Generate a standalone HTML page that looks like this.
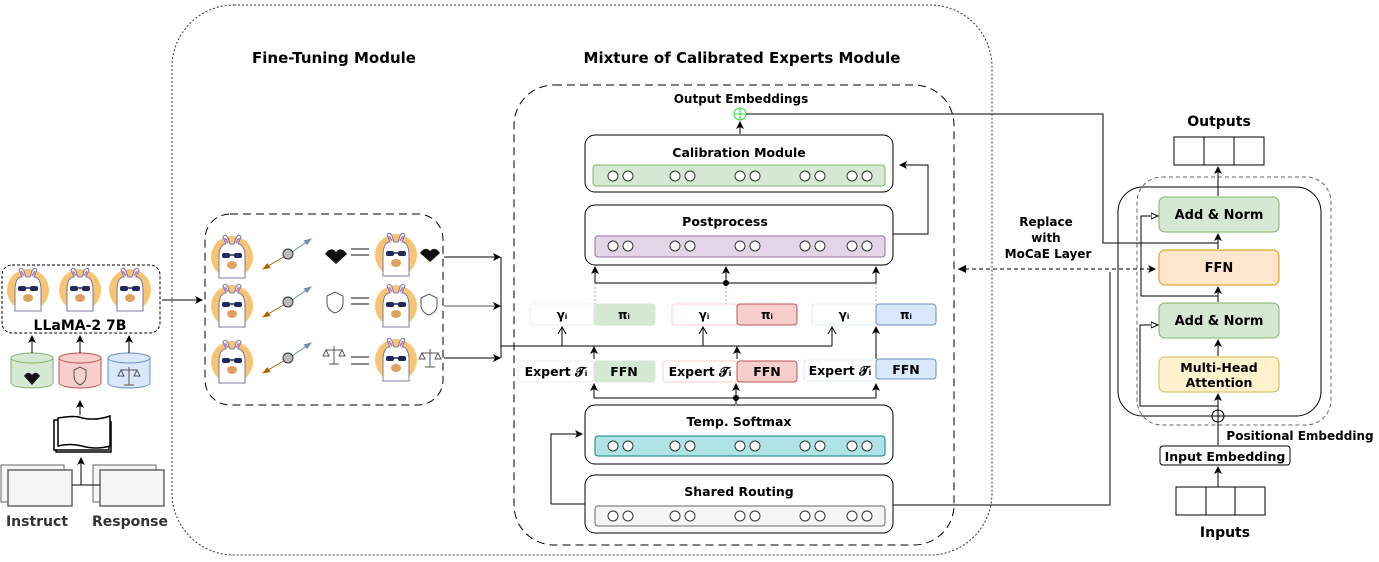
<!DOCTYPE html>
<html><head><meta charset="utf-8"><style>
body{margin:0;background:#fff}
svg{display:block;font-family:"DejaVu Sans","Liberation Sans",sans-serif;font-weight:bold}
</style></head><body>
<svg width="1379" height="562" viewBox="0 0 1379 562" xmlns="http://www.w3.org/2000/svg">
<defs>
<marker id="a" markerWidth="8" markerHeight="8" refX="7" refY="4" orient="auto" markerUnits="userSpaceOnUse"><path d="M0,0 L8,4 L0,8 L2,4z" fill="#000"/></marker>
<marker id="ao" markerWidth="8" markerHeight="10" refX="7" refY="5" orient="auto" markerUnits="userSpaceOnUse"><path d="M0,1 L7,5 L0,9" fill="none" stroke="#000"/></marker>
<marker id="aw" markerWidth="8" markerHeight="8" refX="7" refY="4" orient="auto" markerUnits="userSpaceOnUse"><path d="M0,1 L7,4 L0,7z" fill="#fff" stroke="#000"/></marker>
<marker id="ab" markerWidth="8" markerHeight="8" refX="7" refY="4" orient="auto" markerUnits="userSpaceOnUse"><path d="M0,1 L8,4 L0,7z" fill="#6c8ebf"/></marker>
<marker id="ar" markerWidth="8" markerHeight="8" refX="7" refY="4" orient="auto" markerUnits="userSpaceOnUse"><path d="M0,1 L8,4 L0,7z" fill="#b46504"/></marker>
<g id="ll">
<circle cx="0" cy="0" r="21" fill="#f8c471"/>
<path d="M-13,21 L-13,-2 Q-12,-13 -6,-13 L-9,-20 Q-7,-24 -4,-19 L-2,-13 L2,-13 L4,-19 Q7,-24 9,-20 L6,-13 Q12,-13 13,-2 L13,21z" fill="#fff" stroke="#7a7aa8" stroke-width="1"/>
<path d="M-7,-19 L-4,-14 M7,-19 L4,-14" stroke="#c080c0" stroke-width="2"/>
<rect x="-10" y="-4" width="8" height="5" rx="2" fill="#1f2a5a"/><rect x="2" y="-4" width="8" height="5" rx="2" fill="#1f2a5a"/>
<line x1="-2" y1="-2" x2="2" y2="-2" stroke="#1f2a5a" stroke-width="1.5"/>
<ellipse cx="0" cy="8" rx="5" ry="4" fill="#e0a060"/>
</g>
<g id="circ"><circle cx="0" cy="0" r="5" fill="#fff" stroke="#333"/><circle cx="15" cy="0" r="5" fill="#fff" stroke="#333"/></g>
</defs>

<rect x="172" y="5" width="820" height="550" rx="62" fill="none" stroke="#333" stroke-dasharray="2,2"/>
<text x="334" y="63" text-anchor="middle" font-size="15">Fine-Tuning Module</text>
<text x="742" y="63" text-anchor="middle" font-size="15">Mixture of Calibrated Experts Module</text>
<rect x="514" y="85" width="440" height="460" rx="40" fill="none" stroke="#000" stroke-dasharray="8,5"/>

<rect x="2" y="265" width="158" height="68" rx="10" fill="none" stroke="#000" stroke-dasharray="3,2"/>
<use href="#ll" x="28" y="290"/><use href="#ll" x="80" y="290"/><use href="#ll" x="130" y="290"/>
<text x="80" y="330" text-anchor="middle" font-size="14">LLaMA-2 7B</text>
<line x1="162" y1="300" x2="202" y2="300" stroke="#000" marker-end="url(#a)"/>
<g stroke-width="1">
<path d="M11,358 v25 a21,5 0 0 0 42,0 v-25" fill="#d5e8d4" stroke="#82b366"/><ellipse cx="32" cy="358" rx="21" ry="5" fill="#d5e8d4" stroke="#82b366"/>
<path d="M59,358 v25 a21,5 0 0 0 42,0 v-25" fill="#f8cecc" stroke="#b85450"/><ellipse cx="80" cy="358" rx="21" ry="5" fill="#f8cecc" stroke="#b85450"/>
<path d="M108,358 v25 a21,5 0 0 0 42,0 v-25" fill="#dae8fc" stroke="#6c8ebf"/><ellipse cx="129" cy="358" rx="21" ry="5" fill="#dae8fc" stroke="#6c8ebf"/>
</g>
<path d="M24,376 q4,-6 8,-1 q4,-5 8,1 l-8,9z" fill="#111"/>
<path d="M74,370 l6,-3 6,3 v6 q0,6 -6,9 q-6,-3 -6,-9z" fill="none" stroke="#555"/>
<path d="M121,370 h16 M129,367 v18 M124,385 h10 M121,370 l-3,6 h6z M137,370 l-3,6 h6z" fill="none" stroke="#555"/>
<g stroke="#000" marker-end="url(#a)"><line x1="32" y1="353" x2="32" y2="336"/><line x1="80" y1="353" x2="80" y2="336"/><line x1="129" y1="353" x2="129" y2="336"/></g>
<path d="M52,418 h55 v30 h-55z" fill="#fff" stroke="#000" stroke-width="1.5" transform="translate(4,4)"/>
<path d="M52,418 h55 v30 h-55z" fill="#fff" stroke="#000" stroke-width="1.5" transform="translate(2,2)"/>
<path d="M58,418 q18,-3 24,0 q14,3 28,-2 v30 q-14,4 -28,0 q-12,-3 -24,0z" fill="#fff" stroke="#000" stroke-width="1.5"/>
<line x1="80" y1="415" x2="80" y2="401" stroke="#000" marker-end="url(#a)"/>
<rect x="1" y="465" width="63" height="37" fill="#f5f5f5" stroke="#666"/><rect x="8" y="470" width="64" height="36" fill="#f5f5f5" stroke="#666" stroke-width="1.5"/>
<rect x="93" y="465" width="63" height="37" fill="#f5f5f5" stroke="#666"/><rect x="100" y="470" width="64" height="36" fill="#f5f5f5" stroke="#666" stroke-width="1.5"/>
<path d="M72,485 H100 M81,485 V458" stroke="#000" fill="none" marker-end="url(#a)"/>
<text x="37" y="526" text-anchor="middle" font-size="14" fill="#333">Instruct</text>
<text x="130" y="526" text-anchor="middle" font-size="14" fill="#333">Response</text>

<rect x="205" y="214" width="238" height="191" rx="25" fill="none" stroke="#000" stroke-dasharray="8,5"/>
<g>
<use href="#ll" x="232" y="257"/><use href="#ll" x="232" y="306"/><use href="#ll" x="232" y="362"/>
<use href="#ll" x="396" y="255"/><use href="#ll" x="396" y="306"/><use href="#ll" x="396" y="360"/>
</g>
<g id="row">
<line x1="287" y1="255" x2="263" y2="269" stroke="#b46504" marker-end="url(#ar)"/>
<line x1="292" y1="252" x2="311" y2="239" stroke="#6c8ebf" marker-end="url(#ab)"/>
<circle cx="288" cy="254" r="5" fill="#bbb" stroke="#333"/>
</g>
<use href="#row" y="48"/><use href="#row" y="104"/>
<g stroke="#888" stroke-width="2"><path d="M351,249h18M351,255h18M351,298h18M351,304h18M351,357h18M351,364h18"/></g>
<path d="M325,254 q6,-8 11,-2 q5,-6 11,2 l-11,10z" fill="#111"/><path d="M420,253 q5,-7 10,-2 q5,-5 10,2 l-10,9z" fill="#111"/>
<path d="M327,296 l8,-4 8,4 v7 q0,7 -8,10 q-8,-3 -8,-10z M421,298 l8,-4 8,4 v7 q0,7 -8,10 q-8,-3 -8,-10z" fill="none" stroke="#555"/>
<path d="M326,350 h16 M334,346 v18 M329,364 h10 M326,350 l-3,6 h6z M342,350 l-3,6 h6z M422,353 h16 M430,349 v18 M425,367 h10 M422,353 l-3,6 h6z M438,353 l-3,6 h6z" fill="none" stroke="#555"/>
<g stroke="#000" fill="none">
<line x1="444" y1="257" x2="500" y2="257" marker-end="url(#a)"/>
<line x1="444" y1="306" x2="500" y2="306" stroke="#555" marker-end="url(#a)"/>
<line x1="444" y1="358" x2="500" y2="358" marker-end="url(#a)"/>
<path d="M501,257 V358 M501,346 H832"/>
<path d="M832,346 V327" marker-end="url(#ao)"/>
<path d="M562,346 V327" marker-end="url(#ao)"/>
<path d="M703,346 V327" marker-end="url(#ao)"/>
</g>

<text x="741" y="103" text-anchor="middle" font-size="12">Output Embeddings</text>
<circle cx="740" cy="114" r="6" fill="none" stroke="#33dd33"/><path d="M734,114h12M740,108v12" stroke="#33dd33"/>
<line x1="740" y1="134" x2="740" y2="122" stroke="#000" marker-end="url(#a)"/>

<rect x="585" y="135" width="308" height="57" rx="10" fill="#fff" stroke="#000"/>
<text x="739" y="157" text-anchor="middle" font-size="12.5">Calibration Module</text>
<rect x="593" y="165" width="292" height="21" rx="3" fill="#d5e8d4" stroke="#82b366"/>
<rect x="585" y="205" width="308" height="60" rx="10" fill="#fff" stroke="#000"/>
<text x="725" y="226" text-anchor="middle" font-size="12.5">Postprocess</text>
<rect x="595" y="236" width="290" height="21" rx="3" fill="#e1d5e7" stroke="#9673a6"/>
<rect x="585" y="405" width="308" height="59" rx="10" fill="#fff" stroke="#000"/>
<text x="739" y="426" text-anchor="middle" font-size="12.5">Temp. Softmax</text>
<rect x="595" y="436" width="290" height="20" rx="3" fill="#b0e3e6" stroke="#0e8088"/>
<rect x="585" y="475" width="308" height="58" rx="10" fill="#fff" stroke="#000"/>
<text x="739" y="496" text-anchor="middle" font-size="12.5">Shared Routing</text>
<rect x="595" y="506" width="290" height="20" rx="3" fill="#f5f5f5" stroke="#666"/>
<g>
<use href="#circ" x="613" y="176"/><use href="#circ" x="675" y="176"/><use href="#circ" x="740" y="176"/><use href="#circ" x="805" y="176"/><use href="#circ" x="852" y="176"/>
<use href="#circ" x="613" y="246"/><use href="#circ" x="675" y="246"/><use href="#circ" x="740" y="246"/><use href="#circ" x="805" y="246"/><use href="#circ" x="852" y="246"/>
<use href="#circ" x="613" y="446"/><use href="#circ" x="675" y="446"/><use href="#circ" x="740" y="446"/><use href="#circ" x="805" y="446"/><use href="#circ" x="852" y="446"/>
<use href="#circ" x="613" y="516"/><use href="#circ" x="675" y="516"/><use href="#circ" x="740" y="516"/><use href="#circ" x="805" y="516"/><use href="#circ" x="852" y="516"/>
</g>
<g fill="none" stroke="#000">
<path d="M893,234 H928 V165 H900" marker-end="url(#a)"/>
<path d="M726,283 V267" marker-end="url(#a)"/>
<path d="M595,283 H876"/>
<path d="M595,283 V267" marker-end="url(#a)"/><path d="M876,283 V267" marker-end="url(#a)"/>
<path d="M595,283 V304 M726,283 V304 M876,283 V304" stroke="#b85450" stroke-dasharray="2,2" stroke-width="0.6"/>
<path d="M551,504 V434 H582" marker-end="url(#a)"/>
<path d="M551,504 H585"/>
<path d="M736,398 V384" marker-end="url(#a)"/>
<path d="M594,398 H876"/>
<path d="M594,398 V384" marker-end="url(#a)"/><path d="M876,398 V384" marker-end="url(#a)"/>
<path d="M736,404 V398"/>
<path d="M594,359 V347" marker-end="url(#a)"/><path d="M737,359 V347" marker-end="url(#a)"/>
<path d="M876,359 V327" marker-end="url(#a)"/>
</g>
<circle cx="726" cy="283" r="3" fill="#000"/><circle cx="736" cy="398" r="3" fill="#000"/>

<g font-size="12">
<rect x="530" y="304" width="64" height="21" rx="3" fill="#fff" stroke="#e8f0e8"/><text x="562" y="319" text-anchor="middle">γᵢ</text>
<rect x="594" y="304" width="61" height="21" rx="3" fill="#d5e8d4" stroke="#d5e8d4"/><text x="624" y="319" text-anchor="middle">πᵢ</text>
<rect x="672" y="304" width="65" height="21" rx="3" fill="#fff" stroke="#f8cecc"/><text x="704" y="319" text-anchor="middle">γᵢ</text>
<rect x="737" y="304" width="60" height="21" rx="3" fill="#f8cecc" stroke="#b85450"/><text x="767" y="319" text-anchor="middle">πᵢ</text>
<rect x="812" y="304" width="64" height="21" rx="3" fill="#fff" stroke="#dae8fc"/><text x="844" y="319" text-anchor="middle">γᵢ</text>
<rect x="876" y="304" width="60" height="21" rx="3" fill="#dae8fc" stroke="#6c8ebf"/><text x="906" y="319" text-anchor="middle">πᵢ</text>
<g font-size="12.5">
<rect x="518" y="361" width="76" height="21" rx="3" fill="#fff" stroke="#e8f0e8"/><text x="556" y="376" text-anchor="middle">Expert 𝓣ᵢ</text>
<rect x="594" y="361" width="61" height="21" rx="3" fill="#d5e8d4" stroke="#d5e8d4"/><text x="624" y="376" text-anchor="middle">FFN</text>
<rect x="663" y="361" width="74" height="21" rx="3" fill="#fff" stroke="#f8cecc"/><text x="700" y="376" text-anchor="middle">Expert 𝓣ᵢ</text>
<rect x="737" y="361" width="60" height="21" rx="3" fill="#f8cecc" stroke="#b85450"/><text x="767" y="376" text-anchor="middle">FFN</text>
<rect x="804" y="360" width="72" height="21" rx="3" fill="#fff" stroke="#dae8fc"/><text x="840" y="375" text-anchor="middle">Expert 𝓣ᵢ</text>
<rect x="876" y="359" width="60" height="20" rx="3" fill="#dae8fc" stroke="#6c8ebf"/><text x="906" y="374" text-anchor="middle">FFN</text>
</g></g>

<g fill="none" stroke="#000">
<path d="M746,114 H1103 V243 H1218"/>
<path d="M893,505 H1110 V272"/>
<path d="M958,269 H1155" stroke-dasharray="4,3" marker-end="url(#a)"/>
<path d="M966,265 l-8,4 8,4z" fill="#000" stroke="none"/>
</g>
<text x="1046" y="226" text-anchor="middle" font-size="12">Replace</text>
<text x="1046" y="242" text-anchor="middle" font-size="12">with</text>
<text x="1048" y="258" text-anchor="middle" font-size="12">MoCaE Layer</text>

<text x="1219" y="126" text-anchor="middle" font-size="14">Outputs</text>
<g fill="#fff" stroke="#000"><rect x="1174" y="137" width="30" height="28"/><rect x="1204" y="137" width="30" height="28"/><rect x="1234" y="137" width="30" height="28"/>
<rect x="1176" y="487" width="30" height="28"/><rect x="1206" y="487" width="29" height="28"/><rect x="1235" y="487" width="30" height="28"/></g>
<rect x="1137" y="177" width="194" height="248" rx="25" fill="none" stroke="#666" stroke-dasharray="4,3"/>
<rect x="1118" y="187" width="203" height="229" rx="25" fill="none" stroke="#000"/>
<rect x="1159" y="197" width="120" height="35" rx="6" fill="#d5e8d4" stroke="#82b366"/><text x="1219" y="219" text-anchor="middle" font-size="13">Add &amp; Norm</text>
<rect x="1159" y="250" width="120" height="35" rx="6" fill="#ffe6cc" stroke="#d79b00"/><text x="1219" y="272" text-anchor="middle" font-size="13">FFN</text>
<rect x="1159" y="303" width="120" height="35" rx="6" fill="#d5e8d4" stroke="#82b366"/><text x="1219" y="325" text-anchor="middle" font-size="13">Add &amp; Norm</text>
<rect x="1159" y="357" width="120" height="35" rx="6" fill="#fff2cc" stroke="#d6b656"/><text x="1219" y="372" text-anchor="middle" font-size="12.5">Multi-Head</text><text x="1219" y="387" text-anchor="middle" font-size="12.5">Attention</text>
<rect x="1160" y="446" width="130" height="19" rx="3" fill="#fff" stroke="#000"/><text x="1225" y="461" text-anchor="middle" font-size="12.5">Input Embedding</text>
<text x="1300" y="440" text-anchor="middle" font-size="12">Positional Embedding</text>
<text x="1225" y="537" text-anchor="middle" font-size="14">Inputs</text>
<circle cx="1218" cy="416" r="6" fill="#fff" stroke="#000"/><path d="M1212,416h12M1218,410v12" stroke="#000"/>
<g fill="none" stroke="#000">
<path d="M1218,487 V467" marker-end="url(#a)"/>
<path d="M1218,445 V394" marker-end="url(#a)"/>
<path d="M1218,356 V340" marker-end="url(#a)"/>
<path d="M1218,302 V287" marker-end="url(#a)"/>
<path d="M1218,249 V234" marker-end="url(#a)"/>
<path d="M1218,196 V167" marker-end="url(#a)"/>
<path d="M1218,406 H1140 V325 H1158" marker-end="url(#aw)"/>
<path d="M1218,296 H1141 V216 H1158" marker-end="url(#aw)"/>
</g>
</svg>
</body></html>
